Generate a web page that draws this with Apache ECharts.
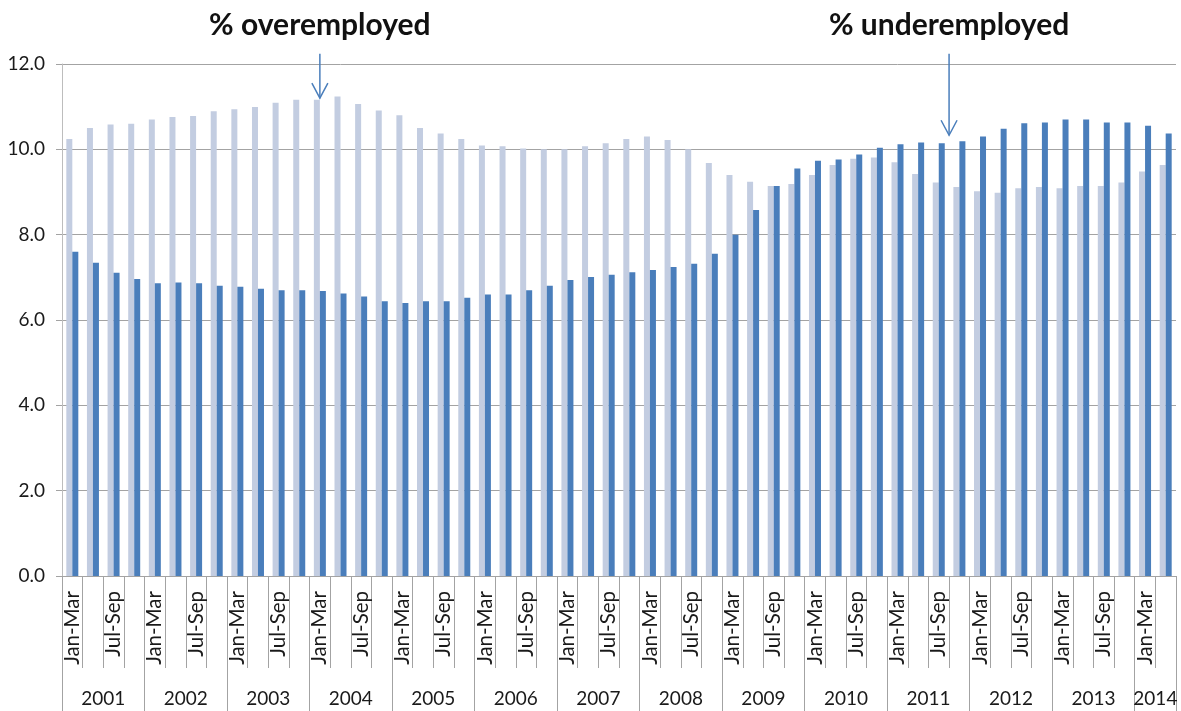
<!DOCTYPE html>
<html>
<head>
<meta charset="utf-8">
<script src="https://cdn.jsdelivr.net/npm/echarts@6/dist/echarts.min.js"></script>
<style>
html,body{margin:0;padding:0;background:#fff;}
#c{width:1181px;height:711px;}
</style>
</head>
<body>
<div id="c"></div>
<script>
// ---- data ----
var years = ['2001','2002','2003','2004','2005','2006','2007','2008','2009','2010','2011','2012','2013','2014'];
var quartersPerYear = [4,4,4,4,4,4,4,4,4,4,4,4,4,2];
var quarterNames = ['Jan-Mar','Apr-Jun','Jul-Sep','Oct-Dec'];
var yTicks = [0, 2, 4, 6, 8, 10, 12];

var overemployed = [10.24,10.50,10.58,10.60,10.70,10.76,10.78,10.89,10.94,10.99,11.09,11.16,11.16,11.24,11.06,10.91,
  10.80,10.50,10.37,10.24,10.09,10.07,10.02,10.00,10.00,10.07,10.14,10.24,10.30,10.22,10.00,9.68,9.40,9.24,9.14,
  9.19,9.40,9.63,9.78,9.81,9.70,9.42,9.22,9.12,9.02,8.98,9.09,9.12,9.09,9.14,9.14,9.22,9.48,9.63];
var underemployed = [7.60,7.34,7.11,6.96,6.86,6.88,6.86,6.80,6.78,6.73,6.70,6.70,6.68,6.62,6.55,6.44,
  6.40,6.44,6.44,6.52,6.60,6.60,6.70,6.80,6.94,7.01,7.06,7.12,7.17,7.24,7.32,7.55,8.00,8.58,9.14,
  9.55,9.73,9.76,9.88,10.04,10.12,10.16,10.14,10.19,10.30,10.48,10.61,10.63,10.70,10.70,10.63,10.63,10.55,10.37];

// ---- derived axis data ----
var categories = [];
var yearStart = [];
var total = 0;
years.forEach(function (y, i) {
  yearStart.push(total);
  for (var q = 0; q < quartersPerYear[i]; q++) categories.push(quarterNames[q]);
  total += quartersPerYear[i];
});
var boundaryCats = [];
for (var k = 0; k <= total; k++) boundaryCats.push('');
var yearLabelAt = {};
years.forEach(function (y, i) {
  var mid = yearStart[i] + quartersPerYear[i] / 2;
  boundaryCats[mid] = y;
  yearLabelAt[mid] = true;
});
var boundarySet = {};
yearStart.forEach(function (s) { boundarySet[s] = true; });
boundarySet[total] = true;

var FONT = 'Lato, "Open Sans", sans-serif';
var LIGHT = '#C3CDE1';
var DARK = '#4A7EBB';
var GRIDC = '#a3a3a3';

var chart = echarts.init(document.getElementById('c'), null, {renderer: 'canvas'});
var option = {
  animation: false,
  backgroundColor: '#fff',
  grid: {left: 62, right: 5, top: 64, bottom: 135, containLabel: false},
  xAxis: [{
    type: 'category',
    data: categories,
    position: 'bottom',
    boundaryGap: true,
    axisLine: {show: true, lineStyle: {color: GRIDC, width: 1}},
    axisTick: {show: true, interval: 0, length: 92, lineStyle: {color: GRIDC}},
    axisLabel: {
      interval: 1, rotate: 90, margin: 15, fontSize: 20.5, color: '#1a1a1a', fontFamily: FONT
    },
    splitLine: {show: false}
  }, {
    type: 'category',
    data: boundaryCats,
    position: 'bottom',
    boundaryGap: false,
    axisLine: {show: false},
    axisTick: {
      show: true, length: 135, lineStyle: {color: GRIDC},
      interval: function (idx) { return !!boundarySet[idx]; }
    },
    axisLabel: {
      margin: 113, fontSize: 19, color: '#1a1a1a', fontFamily: FONT,
      interval: function (idx) { return !!yearLabelAt[idx]; }
    },
    splitLine: {show: false}
  }],
  yAxis: {
    type: 'value',
    min: yTicks[0],
    max: yTicks[yTicks.length - 1],
    interval: yTicks[1] - yTicks[0],
    axisLine: {show: true, lineStyle: {color: '#bdbdbd'}},
    axisTick: {show: true, length: 6, lineStyle: {color: GRIDC}},
    axisLabel: {
      margin: 17, fontSize: 19, color: '#1a1a1a', fontFamily: FONT,
      formatter: function (v) { return v.toFixed(1); }
    },
    splitLine: {show: true, lineStyle: {color: GRIDC, width: 1}}
  },
  series: [{
    name: '% overemployed',
    type: 'bar',
    data: overemployed,
    barWidth: 6,
    barGap: '0%',
    itemStyle: {color: LIGHT}
  }, {
    name: '% underemployed',
    type: 'bar',
    data: underemployed,
    barWidth: 6,
    barGap: '0%',
    itemStyle: {color: DARK}
  }]
};
chart.setOption(option);

// ---- annotations anchored to the data scale ----
function px(catIdx, val) { return chart.convertToPixel({xAxisIndex: 0, yAxisIndex: 0}, [catIdx, val]); }
function arrow(x, y0, y1) {
  return [
    {type: 'line', shape: {x1: x, y1: y0, x2: x, y2: y1}, style: {stroke: DARK, lineWidth: 1.5}},
    {type: 'polyline', shape: {points: [[x - 8, y1 - 15], [x, y1], [x + 8, y1 - 15]]}, style: {stroke: DARK, lineWidth: 1.5, fill: null}}
  ];
}
var topY = px(0, 12.24)[1];
var a1 = px(12, 11.2);
var a2x = (px(42, 0)[0] + px(43, 0)[0]) / 2;
var a2y = px(42, 10.33)[1];
var g = [];
g.push({type: 'text', x: a1[0], y: 25, style: {text: '% overemployed', font: 'bold 30px ' + FONT, fill: '#111', textAlign: 'center', textVerticalAlign: 'middle'}});
g.push({type: 'text', x: a2x, y: 25, style: {text: '% underemployed', font: 'bold 30px ' + FONT, fill: '#111', textAlign: 'center', textVerticalAlign: 'middle'}});
g = g.concat(arrow(a1[0], topY, a1[1]));
g = g.concat(arrow(a2x, topY, a2y));
chart.setOption({graphic: g});
</script>
</body>
</html>
